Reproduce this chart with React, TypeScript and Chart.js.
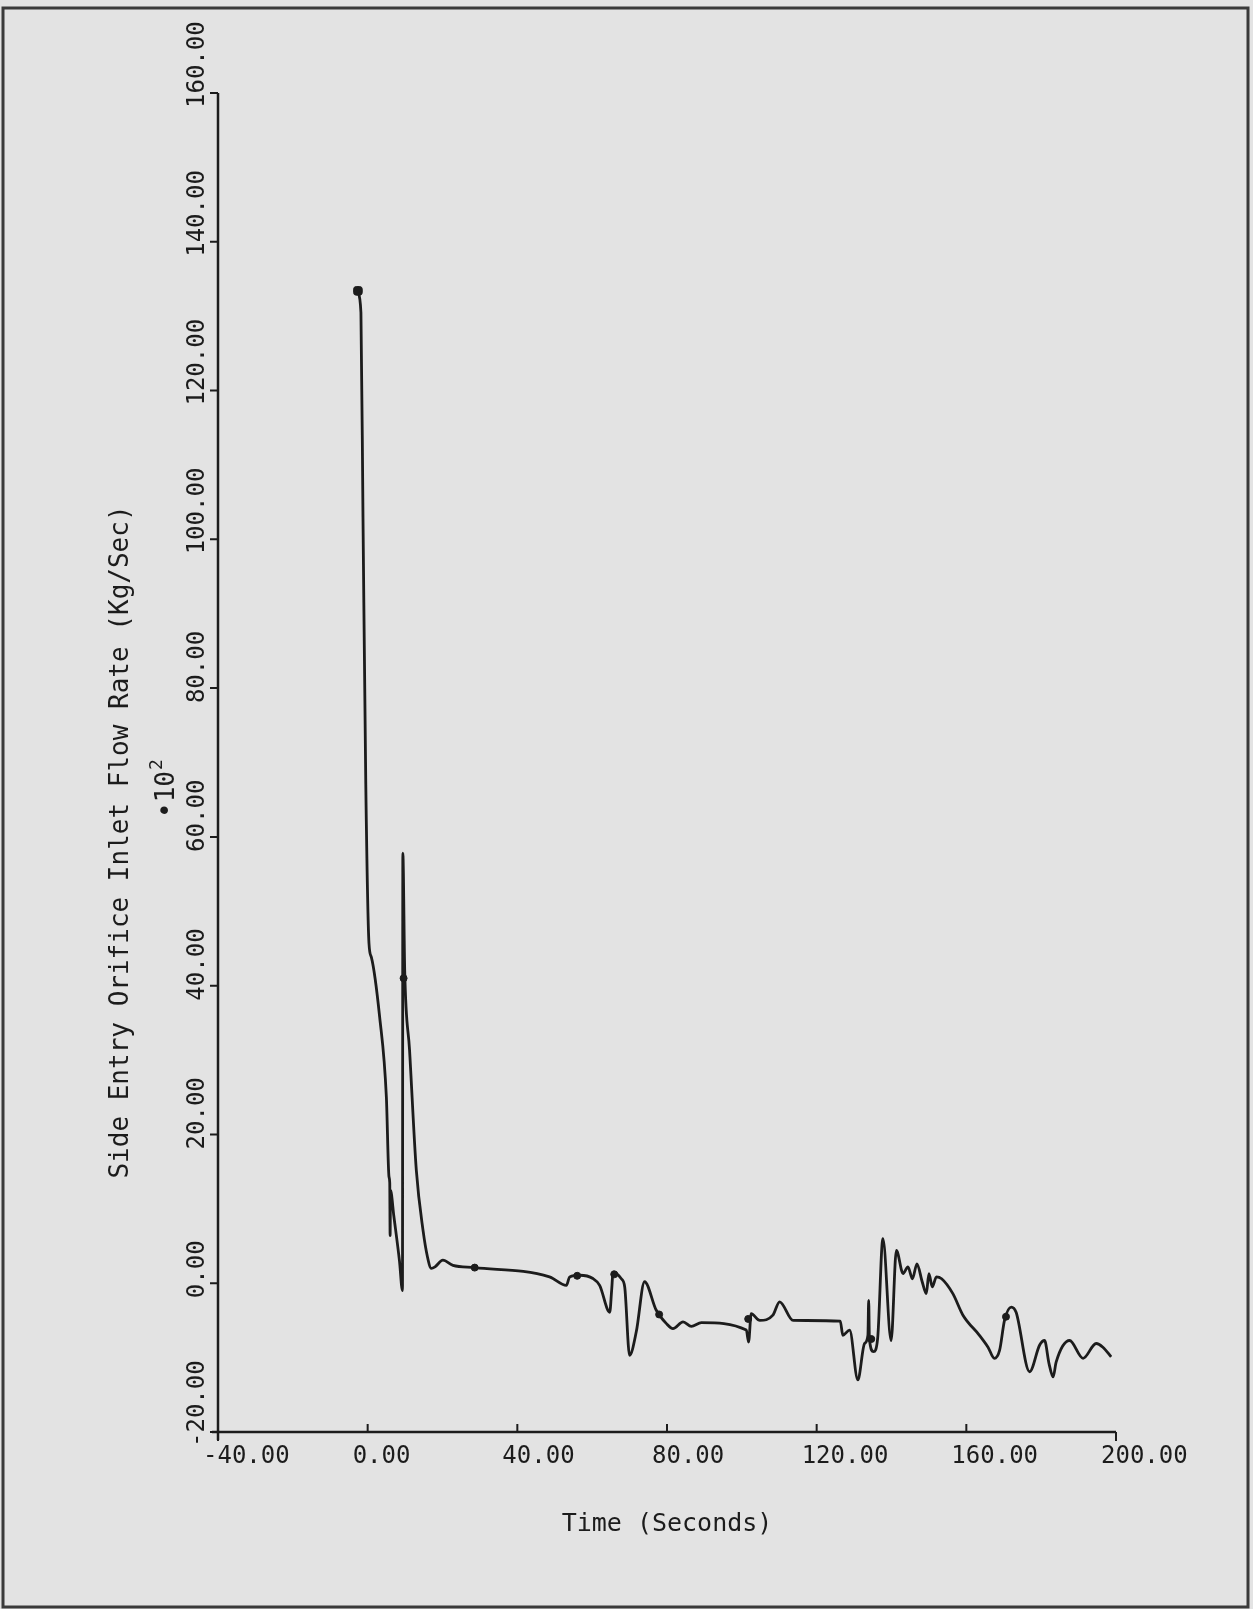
import React, { useEffect, useRef } from "react";
import { Chart, registerables } from "chart.js";

Chart.register(...registerables);

// ---- data ----
const timeSec = [
  -2.6, -1.8, -1.25, -0.5, 0.35, 1.0, 3.2, 5.0, 5.7, 5.9, 6.0, 6.1, 7.0, 8.5, 9.3, 9.4,
  9.9, 11.2, 13.0, 14.8, 16.0, 17.0, 18.0, 20.1, 22.8, 28.6, 48.6, 53.1, 54.0, 56.7,
  60.2, 62.0, 64.7, 65.2, 65.6, 67.8, 68.7, 70.0, 71.8, 74.0, 77.1, 79.8, 81.6, 84.3,
  86.5, 89.2, 101.2, 101.8, 102.5, 104.8, 108.3, 110.1, 113.7, 126.3, 127.0, 128.8,
  131.0, 132.8, 133.7, 133.9, 134.1, 135.2, 136.3, 137.7, 139.9, 141.3, 143.1, 144.4,
  145.6, 146.8, 148.2, 149.3, 150.0, 150.9, 152.0, 153.4, 156.4, 159.1, 163.5, 165.8,
  167.5, 168.9, 170.2, 172.0, 173.3, 176.9, 179.6, 180.9, 182.1, 183.2, 184.0, 187.6,
  191.2, 194.7, 196.5, 198.7,
];
const flowRate = [
  133.2, 130.5, 103, 67, 45.7, 43.8, 35.8, 25, 14.3, 13.5, 6.4, 12.5, 9, 3, -1, 57.8,
  42, 31.3, 15.2, 7.1, 3.5, 2.0, 2.2, 3.1, 2.4, 2.1, 0.85, -0.3, 0.85, 1.07,
  0.63, -0.3, -3.9, -1, 1.5, 0.6, -0.5, -9.7, -6.5, 0.2, -3.6, -5.4, -6.1, -5.2,
  -5.8, -5.3, -6.3, -7.9, -4.1, -5.0, -4.3, -2.5, -5.0, -5.1, -7.0, -6.3,
  -13.0, -8.1, -7.0, -2.3, -7.5, -9.2, -7.4, 6.0, -7.7, 4.4, 1.3, 2.2,
  0.6, 2.6, 0.2, -1.4, 1.3, -0.5, 0.85, 0.6, -1.4, -4.3, -7.0, -8.6,
  -10.1, -9.0, -5.0, -3.2, -3.9, -11.9, -8.3, -7.7, -10.8, -12.6, -10.6, -7.7,
  -10.1, -8.1, -8.6, -9.9,
];
const markerTime = [9.6, 28.6, 56.0, 65.9, 77.9, 101.7, 134.6, 170.6];
const markerFlow = [41, 2.1, 1.0, 1.2, -4.2, -4.8, -7.5, -4.5];
const startTime = [-2.6];
const startFlow = [133.4];

const xTicks = [-40, 0, 40, 80, 120, 160, 200];
const yTicks = [-20, 0, 20, 40, 60, 80, 100, 120, 140, 160];
const xTitle = "Time (Seconds)";
const yTitle = "Side Entry Orifice Inlet Flow Rate (Kg/Sec)";
const yMultiplierBase = "•10";
const yMultiplierExp = "2";

const INK = "#1c1c1c";
const FONT = "'DejaVu Sans Mono', monospace";

const framePlugin = {
  id: "framePlugin",
  beforeDraw(chart: any) {
    const ctx = chart.ctx;
    ctx.save();
    ctx.fillStyle = "#e3e3e3";
    ctx.fillRect(0, 0, chart.width, chart.height);
    ctx.strokeStyle = "#3a3a3a";
    ctx.lineWidth = 3;
    ctx.strokeRect(3, 8, 1245, 1599);
    ctx.restore();
  },
  afterDraw(chart: any) {
    const ctx = chart.ctx;
    const sx = chart.scales.x;
    const sy = chart.scales.y;
    const ax = sx.getPixelForValue(-40);
    const ay = sy.getPixelForValue(-20);
    const xr = sx.getPixelForValue(200);
    const yt = sy.getPixelForValue(160);
    ctx.save();
    ctx.strokeStyle = INK;
    ctx.lineWidth = 2.5;
    ctx.beginPath();
    ctx.moveTo(ax, yt);
    ctx.lineTo(ax, ay + 8);
    ctx.moveTo(ax - 6, ay);
    ctx.lineTo(xr, ay);
    ctx.stroke();
    // y ticks (outward)
    ctx.lineWidth = 2;
    ctx.beginPath();
    yTicks.forEach((v) => {
      const py = sy.getPixelForValue(v);
      ctx.moveTo(ax - 8, py);
      ctx.lineTo(ax, py);
    });
    // x ticks
    xTicks.forEach((v, i) => {
      const px = sx.getPixelForValue(v);
      if (i === 0 || i === xTicks.length - 1) {
        ctx.moveTo(px, ay);
        ctx.lineTo(px, ay + 9);
      } else {
        ctx.moveTo(px, ay);
        ctx.lineTo(px, ay - 8);
      }
    });
    ctx.stroke();

    ctx.fillStyle = INK;
    ctx.font = `24px ${FONT}`;
    ctx.textBaseline = "middle";
    ctx.textAlign = "left";
    xTicks.forEach((v) => {
      const px = sx.getPixelForValue(v);
      ctx.fillText(v.toFixed(2), px - 15, ay + 25);
    });
    yTicks.forEach((v) => {
      const py = sy.getPixelForValue(v);
      ctx.save();
      ctx.translate(ax - 20, py + 15);
      ctx.rotate(-Math.PI / 2);
      ctx.fillText(v.toFixed(2), 0, 0);
      ctx.restore();
    });
    // titles
    ctx.font = `25px ${FONT}`;
    ctx.textAlign = "center";
    ctx.fillText(xTitle, (ax + xr) / 2, 1524);
    ctx.save();
    ctx.translate(121, 842);
    ctx.rotate(-Math.PI / 2);
    ctx.font = `26px ${FONT}`;
    ctx.fillText(yTitle, 0, 0);
    ctx.restore();
    // multiplier
    ctx.save();
    ctx.translate(167, 818);
    ctx.rotate(-Math.PI / 2);
    ctx.textAlign = "left";
    ctx.font = `26px ${FONT}`;
    ctx.fillText(yMultiplierBase, 0, 0);
    const w = ctx.measureText(yMultiplierBase).width;
    ctx.font = `18px ${FONT}`;
    ctx.fillText(yMultiplierExp, w + 1, -10);
    ctx.restore();
    ctx.restore();
  },
};

export default function App() {
  const ref = useRef<HTMLCanvasElement | null>(null);
  useEffect(() => {
    document.body.style.margin = "0";
    document.body.style.overflow = "hidden";
    const canvas = ref.current!;
    const lineData = timeSec.map((t, i) => ({ x: t, y: flowRate[i] }));
    const markData = markerTime.map((t, i) => ({ x: t, y: markerFlow[i] }));
    const startData = startTime.map((t, i) => ({ x: t, y: startFlow[i] }));
    const chart = new Chart(canvas, {
      type: "line",
      data: {
        datasets: [
          {
            data: lineData,
            borderColor: INK,
            borderWidth: 2.8,
            pointRadius: 0,
            cubicInterpolationMode: "monotone",
            fill: false,
          },
          {
            type: "scatter",
            data: markData,
            backgroundColor: INK,
            borderColor: INK,
            pointRadius: 3.5,
            pointStyle: "circle",
          },
          {
            type: "scatter",
            data: startData,
            backgroundColor: INK,
            borderColor: INK,
            pointRadius: 5,
            pointStyle: "rectRounded",
          },
        ],
      } as any,
      options: {
        animation: false,
        responsive: false,
        devicePixelRatio: 1,
        layout: { padding: { left: 218, right: 137, top: 93, bottom: 177 } },
        plugins: { legend: { display: false }, tooltip: { enabled: false } },
        scales: {
          x: { type: "linear", min: -40, max: 200, display: false },
          y: { type: "linear", min: -20, max: 160, display: false },
        },
      },
      plugins: [framePlugin],
    });
    return () => chart.destroy();
  }, []);
  return <canvas ref={ref} width={1253} height={1609} style={{ display: "block", width: 1253, height: 1609 }} />;
}
